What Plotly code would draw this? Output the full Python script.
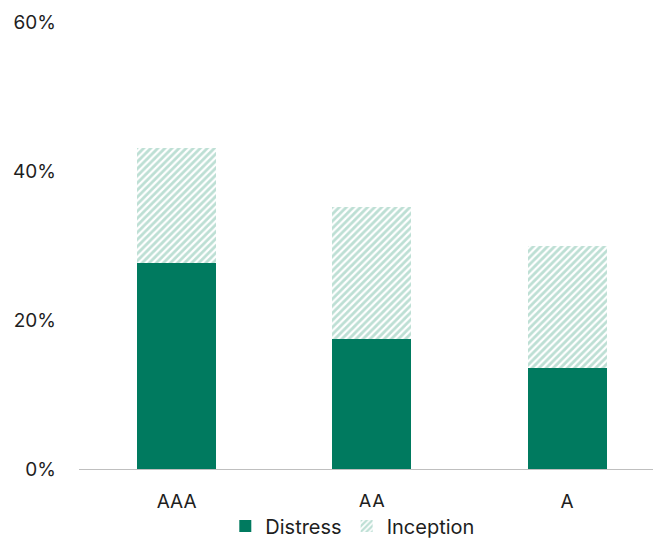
import plotly.graph_objects as go

# Share of deals by rating bucket, split by reason
ratings = ["AAA", "AA", "A"]
distress = [27.7, 17.5, 13.6]
inception = [15.4, 17.7, 16.4]
y_ticks = [0, 20, 40, 60]
y_tick_labels = ["0%", "20%", "40%", "60%"]

GREEN = "#007A5F"
HATCH = "#7BBFAA"
FONT = "Inter"

fig = go.Figure()
fig.add_trace(go.Bar(
    x=ratings, y=distress, name="Distress",
    marker=dict(color=GREEN, line=dict(width=0)),
))
fig.add_trace(go.Bar(
    x=ratings, y=inception, name="Inception",
    marker=dict(
        color="white",
        line=dict(width=0),
        pattern=dict(shape="/", fgcolor=HATCH, bgcolor="white", size=5, solidity=0.55),
    ),
))

fig.update_layout(
    barmode="stack",
    bargap=0.595,
    width=653, height=540,
    margin=dict(l=79, r=0, t=22, b=71, autoexpand=False),
    plot_bgcolor="white", paper_bgcolor="white",
    font=dict(family=FONT, size=19, color="#1E1E1E"),
    showlegend=True,
    legend=dict(
        orientation="h", traceorder="normal",
        x=0.477, xanchor="center",
        yref="container", y=14 / 540, yanchor="middle",
        font=dict(size=20), itemwidth=30, tracegroupgap=0,
    ),
    xaxis=dict(
        range=[-0.5, 2.44], showgrid=False, showline=True,
        linecolor="#BFBFBF", linewidth=1, ticks="", ticklabelstandoff=15,
    ),
    yaxis=dict(
        range=[0, 60], tickvals=y_ticks, ticktext=y_tick_labels,
        showgrid=False, zeroline=False, showline=False, ticks="",
        ticklabelstandoff=22,
    ),
)

fig.write_html("out.html")
